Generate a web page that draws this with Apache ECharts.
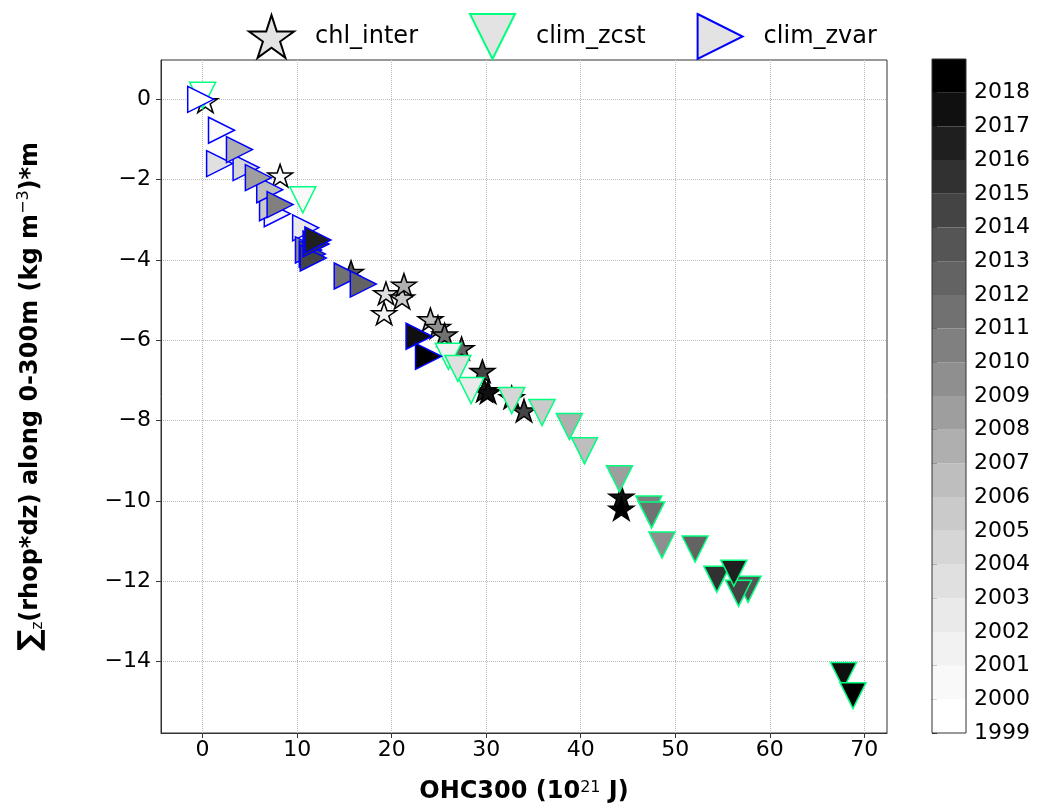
<!DOCTYPE html>
<html>
<head>
<meta charset="utf-8">
<script src="https://cdn.jsdelivr.net/npm/echarts@6/dist/echarts.min.js"></script>
<style>
html, body { margin: 0; padding: 0; background: #fff; }
#chart { width: 1046px; height: 811px; }
</style>
</head>
<body>
<div id="chart"></div>
<script>
// colour bar years and axis ticks
var years = [1999, 2000, 2001, 2002, 2003, 2004, 2005, 2006, 2007, 2008, 2009,
             2010, 2011, 2012, 2013, 2014, 2015, 2016, 2017, 2018];
var xTicks = [0, 10, 20, 30, 40, 50, 60, 70];
var yTicks = [0, -2, -4, -6, -8, -10, -12, -14];

// chl_inter (stars)
var chlYear = [1999, 2000, 2001, 2003, 2005, 2006, 2007, 2009, 2011, 2012, 2013, 2014, 2014, 2015, 2016, 2017, 2017, 2018];
var chlX    = [0.3, 8.2, 19.2, 19.4, 21.1, 24.1, 21.3, 24.9, 25.6, 27.4, 15.7, 29.6, 34.0, 32.7, 29.8, 30.2, 44.3, 44.3];
var chlY    = [-0.05, -1.9, -5.33, -4.83, -4.94, -5.48, -4.62, -5.67, -5.86, -6.2, -4.3, -6.77, -7.75, -7.42, -7.25, -7.29, -9.9, -10.2];

// clim_zcst (down triangles)
var zcstYear = [1999, 2000, 2001, 2002, 2003, 2004, 2005, 2006, 2007, 2008, 2009, 2010, 2011, 2012, 2013, 2014, 2015, 2016, 2017, 2018];
var zcstX    = [0.0, 10.6, 26.0, 28.4, 27.0, 32.7, 35.9, 40.4, 38.8, 44.1, 48.6, 47.2, 47.5, 52.1, 57.7, 56.7, 54.4, 56.2, 67.8, 68.8];
var zcstY    = [0.1, -2.5, -6.4, -7.25, -6.7, -7.5, -7.8, -8.75, -8.15, -9.45, -11.1, -10.2, -10.35, -11.2, -12.2, -12.3, -11.95, -11.8, -14.35, -14.85];

// clim_zvar (right triangles)
var zvarYear = [1999, 2000, 2001, 2002, 2003, 2004, 2005, 2006, 2007, 2008, 2009, 2010, 2011, 2012, 2013, 2014, 2015, 2016, 2017, 2018];
var zvarX    = [-0.2, 2.0, 7.9, 10.9, 1.8, 4.6, 7.4, 7.1, 3.9, 5.9, 11.2, 8.2, 15.3, 17.0, 11.6, 11.7, 12.0, 12.2, 22.9, 23.9];
var zvarY    = [0.0, -0.77, -2.85, -3.2, -1.6, -1.7, -2.7, -2.25, -1.25, -1.95, -3.75, -2.62, -4.4, -4.6, -3.85, -3.95, -3.6, -3.5, -5.9, -6.4];

// matplotlib Greys colour map
var greyStops = ['#ffffff', '#f0f0f0', '#d9d9d9', '#bdbdbd', '#969696', '#737373', '#525252', '#252525', '#000000'];
function greys(t) {
    var n = greyStops.length;
    var p = Math.max(0, Math.min(1, t)) * (n - 1);
    var i = Math.min(Math.floor(p), n - 2);
    var f = p - i;
    var a = parseInt(greyStops[i].slice(1, 3), 16);
    var b = parseInt(greyStops[i + 1].slice(1, 3), 16);
    var g = Math.round(a + (b - a) * f);
    return 'rgb(' + g + ',' + g + ',' + g + ')';
}
function yearColor(y) {
    return greys((y - years[0]) / (years.length - 1));
}

function starPath() {
    var pts = [];
    for (var k = 0; k < 10; k++) {
        var r = k % 2 ? 0.381966 : 1;
        var a = -Math.PI / 2 + k * Math.PI / 5;
        pts.push((r * Math.cos(a)).toFixed(4) + ',' + (r * Math.sin(a)).toFixed(4));
    }
    return 'path://M' + pts.join(' L') + ' Z';
}
var STAR = starPath();
var TRI_DOWN = 'path://M-1,-1 L1,-1 L0,1 Z';
var TRI_RIGHT = 'path://M-1,-1 L1,0 L-1,1 Z';

function points(xs, ys, yrs) {
    var out = [];
    for (var i = 0; i < xs.length; i++) {
        out.push({ value: [xs[i], ys[i], yrs[i]], itemStyle: { color: yearColor(yrs[i]) } });
    }
    return out;
}

var FONT = 'DejaVu Sans';
var MS = 26; // marker size (px)

var chart = echarts.init(document.getElementById('chart'));
var option = {
    animation: false,
    textStyle: { fontFamily: FONT, color: '#000' },
    legend: {
        top: 8,
        left: 243,
        itemWidth: 45,
        itemHeight: 45,
        itemGap: 51,
        textStyle: { fontSize: 24, fontFamily: FONT, color: '#000', padding: [0, 0, 0, 16] },
        data: ['chl_inter', 'clim_zcst', 'clim_zvar']
    },
    grid: [
        { left: 161, top: 60, width: 726, height: 673, show: true, borderColor: '#333', borderWidth: 1, backgroundColor: 'transparent' },
        { left: 932, top: 59, width: 34, height: 674 }
    ],
    xAxis: [{
        gridIndex: 0,
        type: 'value',
        min: -4.4,
        max: 72.4,
        splitNumber: 7,
        name: '{b|OHC300 (10}{sup|21}{b| J)}',
        nameLocation: 'middle',
        nameGap: 47,
        nameTextStyle: {
            rich: {
                b: { fontSize: 24, fontWeight: 'bold', fontFamily: FONT, color: '#000' },
                sup: { fontSize: 16, fontFamily: FONT, color: '#000', verticalAlign: 'top' }
            }
        },
        axisLine: { show: true, onZero: false, lineStyle: { color: '#333', width: 1 } },
        axisTick: { show: true, inside: false, length: 5, customValues: xTicks, lineStyle: { color: '#333' } },
        axisLabel: { fontSize: 22, color: '#000', margin: 6, customValues: xTicks },
        splitLine: { show: true, lineStyle: { type: 'dotted', color: '#bcbcbc', width: 1 } }
    }, {
        gridIndex: 1, type: 'value', min: 0, max: 1, show: false
    }],
    yAxis: [{
        gridIndex: 0,
        type: 'value',
        min: -15.78,
        max: 0.98,
        splitNumber: 8,
        name: '{sum|\u2211}{sub|z}{b|(rhop*dz) along 0-300m (kg m}{sup|\u22123}{b|)*m}',
        nameLocation: 'middle',
        nameRotate: 90,
        nameGap: 115,
        nameTextStyle: {
            rich: {
                b: { fontSize: 24, fontWeight: 'bold', fontFamily: FONT, color: '#000' },
                sum: { fontSize: 30, fontWeight: 'bold', fontFamily: FONT, color: '#000' },
                sub: { fontSize: 15, fontFamily: FONT, color: '#000', verticalAlign: 'bottom' },
                sup: { fontSize: 16, fontFamily: FONT, color: '#000', verticalAlign: 'top' }
            }
        },
        axisLine: { show: true, onZero: false, lineStyle: { color: '#333', width: 1 } },
        axisTick: { show: true, inside: false, length: 5, customValues: yTicks, lineStyle: { color: '#333' } },
        axisLabel: {
            fontSize: 22, color: '#000', margin: 10, customValues: yTicks, padding: [3, 0, 0, 0],
            formatter: function (v) { return v < 0 ? '\u2212' + Math.abs(v) : String(v); }
        },
        splitLine: { show: true, lineStyle: { type: 'dotted', color: '#bcbcbc', width: 1 } }
    }, {
        gridIndex: 1,
        type: 'value',
        position: 'right',
        min: 1999,
        max: 2019,
        interval: 1,
        axisLine: { show: false },
        axisTick: { show: true, inside: false, length: 5, lineStyle: { color: '#333' } },
        axisLabel: {
            fontSize: 22, color: '#000', margin: 8, showMaxLabel: false, padding: [5, 0, 0, 0],
            formatter: function (v) { return String(v); }
        },
        splitLine: { show: false }
    }],
    series: [{
        name: 'chl_inter',
        type: 'scatter',
        symbol: STAR,
        symbolKeepAspect: true,
        symbolSize: [MS * 0.951, MS * 0.905],
        itemStyle: { color: '#e3e3e3', opacity: 1, borderColor: '#000', borderWidth: 1.5 },
        emphasis: { disabled: true },
        data: points(chlX, chlY, chlYear)
    }, {
        name: 'clim_zcst',
        type: 'scatter',
        symbol: TRI_DOWN,
        symbolKeepAspect: true,
        symbolSize: MS,
        itemStyle: { color: '#e3e3e3', opacity: 1, borderColor: '#00ff7f', borderWidth: 1.5 },
        emphasis: { disabled: true },
        data: points(zcstX, zcstY, zcstYear)
    }, {
        name: 'clim_zvar',
        type: 'scatter',
        symbol: TRI_RIGHT,
        symbolKeepAspect: true,
        symbolSize: MS,
        itemStyle: { color: '#e3e3e3', opacity: 1, borderColor: '#0000ff', borderWidth: 1.5 },
        emphasis: { disabled: true },
        data: points(zvarX, zvarY, zvarYear)
    }, {
        // colour bar bands
        type: 'custom',
        xAxisIndex: 1,
        yAxisIndex: 1,
        silent: true,
        data: years.map(function (y) { return [0, y]; }),
        renderItem: function (params, api) {
            var yr = api.value(1);
            var p0 = api.coord([0, yr]);
            var p1 = api.coord([1, yr + 1]);
            return {
                type: 'rect',
                shape: { x: p0[0], y: p1[1], width: p1[0] - p0[0], height: p0[1] - p1[1] },
                style: { fill: yearColor(yr), stroke: null }
            };
        }
    }, {
        // colour bar outline
        type: 'custom',
        xAxisIndex: 1,
        yAxisIndex: 1,
        silent: true,
        z: 5,
        data: [[0, years[0]]],
        renderItem: function (params, api) {
            var p0 = api.coord([0, years[0]]);
            var p1 = api.coord([1, years[years.length - 1] + 1]);
            return {
                type: 'rect',
                shape: { x: p0[0], y: p1[1], width: p1[0] - p0[0], height: p0[1] - p1[1] },
                style: { fill: null, stroke: '#333', lineWidth: 1 }
            };
        }
    }]
};
chart.setOption(option);
</script>
</body>
</html>
